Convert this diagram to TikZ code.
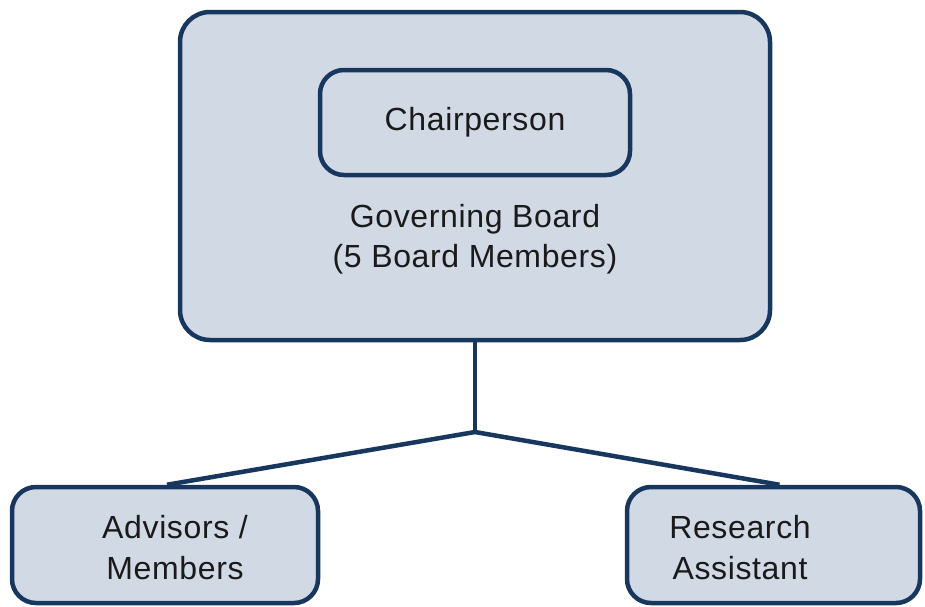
\documentclass[tikz,border=0pt]{standalone}
\usepackage{fontspec}
\setmainfont{Liberation Sans}[LetterSpace=2]
\usetikzlibrary{calc}
\definecolor{boxfill}{HTML}{D1D9E5}
\definecolor{boxline}{HTML}{18375F}
\definecolor{txt}{HTML}{1A1A1A}
\begin{document}
\begin{tikzpicture}[x=1pt,y=-1pt,
  orgbox/.style={draw=boxline, fill=boxfill, line width=4.5pt, rectangle, inner sep=0pt},
  lbl/.style={text=txt, align=center, font=\fontsize{32}{41}\selectfont, inner sep=0pt},
  conn/.style={draw=boxline, line width=4.5pt}]
\useasboundingbox (0,0) rectangle (925,606);
\node[orgbox, rounded corners=30pt, minimum width=590pt, minimum height=328pt] (board) at (475,176) {};
\node[orgbox, rounded corners=24pt, minimum width=310pt, minimum height=105pt] (chair) at (475,122.5) {};
\node[lbl] (chairtxt) at (475,122) {Chairperson};
\node[lbl, font=\fontsize{32}{40}\selectfont] (boardtxt) at (475,239) {Governing Board\\(5 Board Members)};
\node[orgbox, rounded corners=24pt, minimum width=306pt, minimum height=116pt] (adv) at (165,545) {};
\node[orgbox, rounded corners=24pt, minimum width=293pt, minimum height=116pt] (ra) at (773.5,545) {};
\node[lbl] (advtxt) at (175,548) {Advisors /\\Members};
\node[lbl] (ratxt) at (740,548) {Research\\Assistant};
\coordinate (j) at (475,432);
\draw[conn] (board.south) -- (j);
\draw[conn] (j) -- ($(adv.north)+(2,0)$);
\draw[conn] (j) -- ($(ra.north)+(6,0)$);
\end{tikzpicture}
\end{document}
